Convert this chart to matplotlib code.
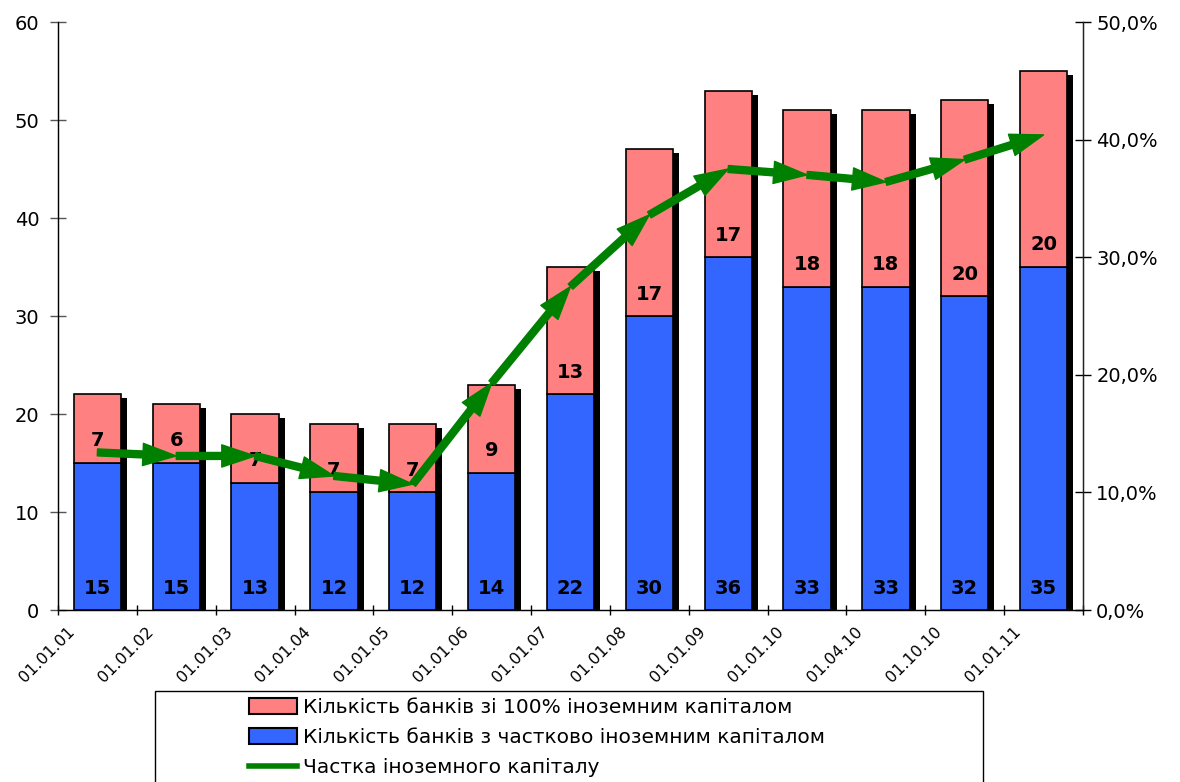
import numpy as np
import matplotlib
matplotlib.use("Agg")
import matplotlib.pyplot as plt
import matplotlib.transforms as mtransforms
from matplotlib.patches import FancyArrowPatch, ArrowStyle, Rectangle, Patch
from matplotlib.lines import Line2D
from matplotlib.ticker import FuncFormatter

plt.rcParams['font.family'] = ['DejaVu Sans']

# Дати та дані
dates = ['01.01.01', '01.01.02', '01.01.03', '01.01.04', '01.01.05', '01.01.06',
         '01.01.07', '01.01.08', '01.01.09', '01.01.10', '01.04.10', '01.10.10',
         '01.01.11']
partial = [15, 15, 13, 12, 12, 14, 22, 30, 36, 33, 33, 32, 35]
full = [7, 6, 7, 7, 7, 9, 13, 17, 17, 18, 18, 20, 20]
share = [13.4, 13.1, 13.1, 11.4, 10.7, 19.3, 27.5, 33.6, 37.5, 37.0, 36.4, 38.3, 40.4]

label_full = 'Кількість банків зі 100% іноземним капіталом'
label_partial = 'Кількість банків з частково іноземним капіталом'
label_share = 'Частка іноземного капіталу'

pink = '#FF8080'
blue = '#3366FF'
green = '#008000'

W, H = 1180, 782
fig = plt.figure(figsize=(W / 100, H / 100), dpi=100)
ax = fig.add_axes([58 / W, 1 - 610 / H, 1025 / W, 588 / H])

x = np.arange(len(dates))
total = np.array(partial) + np.array(full)
bw = 0.6

# тінь під стовпчиками
shadow_tr = ax.transData + mtransforms.ScaledTranslation(6 / 100, -4 / 100, fig.dpi_scale_trans)
ax.bar(x, total, bw, color='black', transform=shadow_tr, zorder=1)

ax.bar(x, partial, bw, color=blue, edgecolor='black', linewidth=1.2, zorder=2)
ax.bar(x, full, bw, bottom=partial, color=pink, edgecolor='black', linewidth=1.2, zorder=2)

for xi, p, f in zip(x, partial, full):
    ax.annotate(str(p), (xi, 0), xytext=(0, 22), textcoords='offset pixels',
                ha='center', va='center', fontsize=14, fontweight='bold', zorder=3)
    ax.annotate(str(f), (xi, p), xytext=(0, 22), textcoords='offset pixels',
                ha='center', va='center', fontsize=14, fontweight='bold', zorder=3)

ax.set_xlim(-0.5, len(dates) - 0.5)
ax.set_ylim(0, 60)
ax.set_yticks(range(0, 61, 10))
ax.set_xticks(np.arange(len(dates) + 1) - 0.5, minor=False)
ax.set_xticklabels([])
ax.set_xticks(x, minor=True)
ax.set_xticklabels(dates, minor=True, rotation=45, ha='right', fontsize=11.5)
ax.tick_params(axis='x', which='major', direction='inout', length=7, width=1)
ax.tick_params(axis='x', which='minor', length=0, pad=10)
ax.tick_params(axis='y', direction='inout', length=11, width=1, pad=8, labelsize=14,
               color='#555555')
lab_shift = mtransforms.ScaledTranslation(-20 / 100, 0, fig.dpi_scale_trans)
for lbl in ax.get_xticklabels(minor=True):
    lbl.set_transform(lbl.get_transform() + lab_shift)

ax.spines['top'].set_visible(False)
for s in ['left', 'right', 'bottom']:
    ax.spines[s].set_linewidth(1)
    ax.spines[s].set_color('#222222')

# частка іноземного капіталу — права вісь
ax2 = ax.twinx()
ax2.set_ylim(0, 50)
ax2.set_yticks(range(0, 51, 10))
ax2.yaxis.set_major_formatter(FuncFormatter(lambda v, _: f'{v:.1f}%'.replace('.', ',')))
ax2.tick_params(axis='y', direction='inout', length=11, width=1, pad=4, labelsize=14)
ax2.spines['top'].set_visible(False)
ax2.spines['right'].set_color('#222222')

style = ArrowStyle.Simple(head_length=24, head_width=16, tail_width=5)
for i in range(len(share) - 1):
    arr = FancyArrowPatch((x[i], share[i]), (x[i + 1], share[i + 1]),
                          arrowstyle=style, mutation_scale=1, color=green,
                          shrinkA=0, shrinkB=0, zorder=4)
    ax2.add_patch(arr)

# легенда
fig.patches.append(Rectangle((155 / W, -0.05), (983 - 155) / W, (1 - 691 / H) + 0.05,
                             transform=fig.transFigure, facecolor='white',
                             edgecolor='black', linewidth=1))
handles = [Patch(facecolor=pink, edgecolor='black', linewidth=1.5),
           Patch(facecolor=blue, edgecolor='black', linewidth=1.5),
           Line2D([], [], color=green, linewidth=4)]
fig.legend(handles, [label_full, label_partial, label_share],
           loc='upper left', bbox_to_anchor=(249 / W, 1 - 698 / H),
           frameon=False, fontsize=14.5, handlelength=2.4, handleheight=0.8,
           handletextpad=0.3, labelspacing=0.55, borderpad=0, borderaxespad=0)

fig.savefig('out.png', dpi=100)
